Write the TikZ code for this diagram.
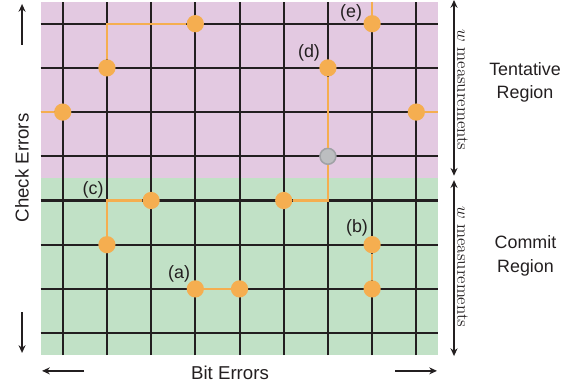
\documentclass[tikz,border=0pt]{standalone}
\usepackage{fontspec}
\newfontfamily\sansf{Liberation Sans}
\usetikzlibrary{arrows.meta}
\definecolor{pinkbg}{RGB}{227,201,225}
\definecolor{greenbg}{RGB}{193,225,198}
\definecolor{orng}{RGB}{245,174,80}
\definecolor{gridc}{RGB}{35,31,32}
\definecolor{grayfill}{RGB}{188,190,192}
\definecolor{grayedge}{RGB}{160,162,166}
\tikzset{
  gridline/.style={draw=gridc, line width=1.3pt},
  path/.style={draw=orng, line width=1.4pt},
  dot/.style={circle, fill=orng, inner sep=0pt, minimum size=0.39cm},
  graydot/.style={circle, fill=grayfill, draw=grayedge, line width=1pt, inner sep=0pt, minimum size=0.36cm},
  lbl/.style={font=\sansf\fontsize{11.5}{13}\selectfont, text=gridc, inner sep=0pt},
  axlbl/.style={font=\sansf\fontsize{12}{14}\selectfont, text=gridc, inner sep=0pt},
  reglbl/.style={font=\sansf\fontsize{11.5}{15.2}\selectfont, text=gridc, align=center, inner sep=0pt},
  meas/.style={font=\fontsize{11}{13}\selectfont, text=gridc, inner sep=0pt, rotate=-90, anchor=base},
  arr/.style={draw=gridc, line width=1.2pt, -{Stealth[length=5pt,width=4.5pt]}},
  darr/.style={draw=gridc, line width=1.2pt, {Stealth[length=5pt,width=4.5pt]}-{Stealth[length=5pt,width=4.5pt]}}
}
\begin{document}
\begin{tikzpicture}
\useasboundingbox (-1.419,-1.174) rectangle (11.839,7.536);
% regions
\fill[pinkbg] (-0.5,3.5) rectangle (8.5,7.5);
\fill[greenbg] (-0.5,-0.5) rectangle (8.5,3.5);
% grid
\foreach \i in {0,...,8} \draw[gridline] (\i,-0.5) -- (\i,7.5);
\foreach \j in {0,...,7} \draw[gridline] (-0.5,\j) -- (8.5,\j);
% coordinates
\coordinate (ltop) at (1,7);
\coordinate (wl) at (-0.5,5);
\coordinate (wr) at (8.5,5);
\coordinate (etop) at (7,7.5);
\coordinate (dcorner) at (6,3);
\coordinate (ccorner) at (1,3);
% dots
\node[dot] (t1) at (3,7) {};
\node[dot] (t2) at (1,6) {};
\node[dot] (w1) at (0,5) {};
\node[dot] (w2) at (8,5) {};
\node[dot] (e1) at (7,7) {};
\node[dot] (d1) at (6,6) {};
\node[graydot] (g1) at (6,4) {};
\node[dot] (d2) at (5,3) {};
\node[dot] (c1) at (2,3) {};
\node[dot] (c2) at (1,2) {};
\node[dot] (a1) at (3,1) {};
\node[dot] (a2) at (4,1) {};
\node[dot] (b1) at (7,2) {};
\node[dot] (b2) at (7,1) {};
% paths
\begin{scope}[on background layer/.style={}]
\end{scope}
\draw[path] (t1.west) -- (ltop) -- (t2.north);
\draw[path] (wl) -- (w1.west);
\draw[path] (w2.east) -- (wr);
\draw[path] (etop) -- (e1.north);
\draw[path] (d1.south) -- (g1.north);
\draw[path] (g1.south) -- (dcorner) -- (d2.east);
\draw[path] (c1.west) -- (ccorner) -- (c2.north);
\draw[path] (a1.east) -- (a2.west);
\draw[path] (b1.south) -- (b2.north);
% labels
\node[lbl] (le) at (6.523,7.242) {(e)};
\node[lbl] (ld) at (5.572,6.337) {(d)};
\node[lbl] (lc) at (0.686,3.25) {(c)};
\node[lbl] (la) at (2.634,1.337) {(a)};
\node[lbl] (lb) at (6.658,2.378) {(b)};
% right side
\coordinate (ra1) at (8.853,7.536);
\coordinate (ra2) at (8.853,3.56);
\coordinate (rb1) at (8.853,3.46);
\coordinate (rb2) at (8.853,-0.52);
\draw[darr] (ra1) -- (ra2);
\draw[darr] (rb1) -- (rb2);
\node[meas] (m1) at (8.93,5.5) {$w$ measurements};
\node[meas] (m2) at (8.93,1.5) {$w$ measurements};
\node[reglbl] (tr) at (10.46,5.67) {Tentative\\Region};
\node[reglbl] (cr) at (10.47,1.75) {Commit\\Region};
% axis labels
\node[axlbl, rotate=90] (ce) at (-0.92,3.735) {Check Errors};
\node[axlbl] (be) at (3.785,-0.903) {Bit Errors};
\coordinate (up1) at (-0.92,6.518);
\coordinate (up2) at (-0.92,7.446);
\coordinate (dn1) at (-0.92,0.477);
\coordinate (dn2) at (-0.92,-0.45);
\coordinate (lf1) at (0.482,-0.855);
\coordinate (lf2) at (-0.468,-0.855);
\coordinate (rt1) at (7.518,-0.855);
\coordinate (rt2) at (8.468,-0.855);
\draw[arr] (up1) -- (up2);
\draw[arr] (dn1) -- (dn2);
\draw[arr] (lf1) -- (lf2);
\draw[arr] (rt1) -- (rt2);
\end{tikzpicture}
\end{document}
